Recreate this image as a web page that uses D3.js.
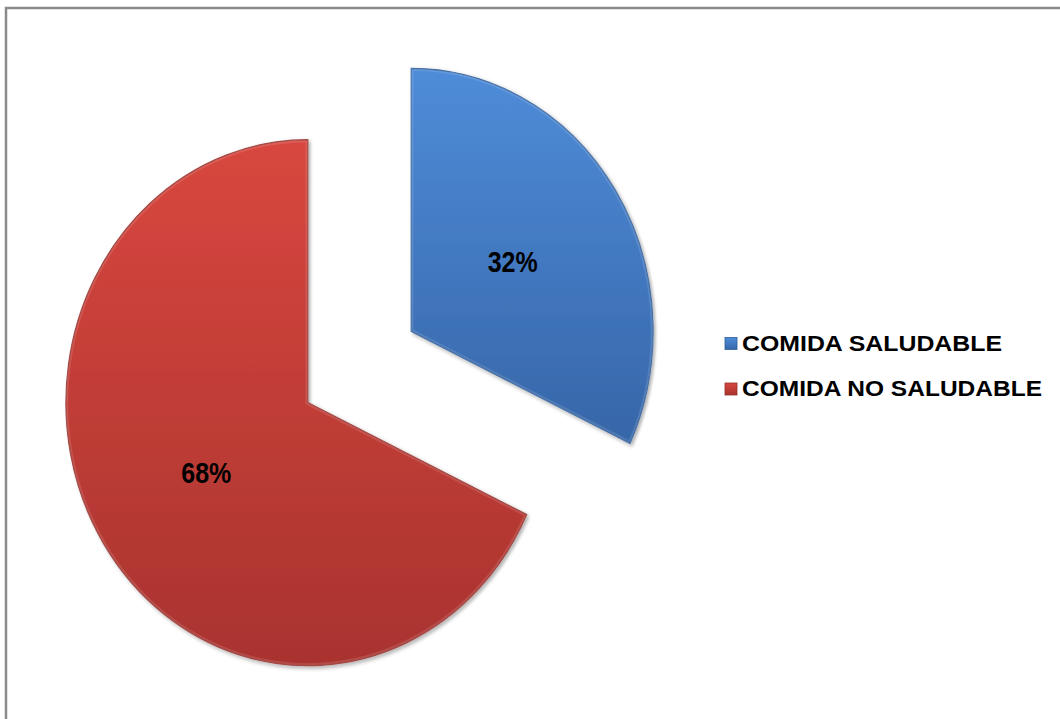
<!DOCTYPE html>
<html>
<head>
<meta charset="utf-8">
<script src="https://cdn.jsdelivr.net/npm/d3@7"></script>
<style>
  html, body { margin: 0; padding: 0; background: #ffffff; }
  svg { display: block; }
  text { font-family: "Liberation Sans", Arial, sans-serif; font-weight: bold; fill: #000; }
</style>
</head>
<body>
<svg id="chart" width="1060" height="719"></svg>
<script>
// Food survey: share of answers per category
const categories = ["COMIDA SALUDABLE", "COMIDA NO SALUDABLE"];
const values = [32, 68];
const sliceTop = ["#4f8cd9", "#d8473f"];
const sliceBottom = ["#3666a8", "#a9332f"];
const edgeColors = ["#2f5d98", "#94302c"];

const W = 1060, H = 719;
const svg = d3.select("#chart");

const defs = svg.append("defs");
categories.forEach((c, i) => {
  const g = defs.append("linearGradient")
    .attr("id", "grad" + i)
    .attr("x1", 0).attr("y1", 0).attr("x2", 0).attr("y2", 1);
  g.append("stop").attr("offset", "0%").attr("stop-color", sliceTop[i]);
  g.append("stop").attr("offset", "100%").attr("stop-color", sliceBottom[i]);
});
const shadow = defs.append("filter").attr("id", "shadow")
  .attr("x", "-10%").attr("y", "-10%").attr("width", "120%").attr("height", "120%");
shadow.append("feDropShadow")
  .attr("dx", 2).attr("dy", 2).attr("stdDeviation", 2)
  .attr("flood-color", "#000").attr("flood-opacity", 0.35);

// chart frame
svg.append("rect")
  .attr("x", 6).attr("y", 8)
  .attr("width", W + 20).attr("height", H + 20)
  .attr("fill", "none").attr("stroke", "#8a8a8a").attr("stroke-width", 2.5);

// pie geometry (slightly narrower horizontally, as in the plot area)
const cx = 359.5, cy = 367, R = 263, sx = 0.92, explode = 66.5;

const pie = d3.pie().sort(null).value(d => d);
const arcs = pie(values);
const arc = d3.arc().innerRadius(0).outerRadius(R);
const labelArc = d3.arc().innerRadius(R * 0.497).outerRadius(R * 0.497);

const pieG = svg.append("g").attr("transform", `translate(${cx},${cy})`);

arcs.forEach((a, i) => {
  const mid = (a.startAngle + a.endAngle) / 2;
  const ox = Math.sin(mid) * explode * sx;
  const oy = -Math.cos(mid) * explode;
  const g = pieG.append("g").attr("transform", `translate(${ox},${oy})`);
  g.append("path")
    .attr("d", arc(a))
    .attr("transform", `scale(${sx},1)`)
    .attr("fill", `url(#grad${i})`)
    .attr("stroke", edgeColors[i])
    .attr("stroke-width", 1.2)
    .attr("filter", "url(#shadow)");
  // soft bevel highlight along the edge
  g.append("path")
    .attr("d", arc(a))
    .attr("transform", `scale(${sx},1)`)
    .attr("fill", "none")
    .attr("stroke", "#ffffff")
    .attr("stroke-opacity", 0.12)
    .attr("stroke-width", 5);
  const [lx, ly] = labelArc.centroid(a);
  g.append("text")
    .attr("x", lx * sx)
    .attr("y", ly + 10.5)
    .attr("text-anchor", "middle")
    .attr("font-size", 29)
    .attr("textLength", 50)
    .attr("lengthAdjust", "spacingAndGlyphs")
    .text(values[i] + "%");
});

// legend
const legendRows = [
  { y: 350.5, len: 260 },
  { y: 396, len: 300 }
];
const legend = svg.append("g");
categories.forEach((c, i) => {
  const r = legendRows[i];
  legend.append("rect")
    .attr("x", 725).attr("y", r.y - 13)
    .attr("width", 12).attr("height", 12)
    .attr("fill", `url(#grad${i})`)
    .attr("stroke", edgeColors[i]).attr("stroke-width", 0.8);
  legend.append("text")
    .attr("x", 742).attr("y", r.y)
    .attr("font-size", 22.5)
    .attr("textLength", r.len)
    .attr("lengthAdjust", "spacingAndGlyphs")
    .text(c);
});
</script>
</body>
</html>
